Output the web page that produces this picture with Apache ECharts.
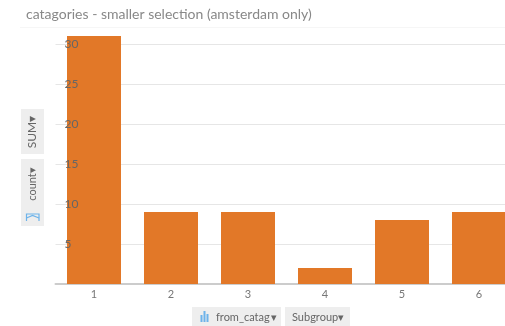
<!DOCTYPE html>
<html>
<head>
<meta charset="utf-8">
<script src="https://cdn.jsdelivr.net/npm/echarts@6/dist/echarts.min.js"></script>
<style>
  html, body { margin: 0; padding: 0; background: #fff; overflow: hidden; }
  #chart_example { width: 505px; height: 326px; }
</style>
</head>
<body>
<div id="chart_example"></div>
<script>
var categories = ['1', '2', '3', '4', '5', '6'];
var counts = [31, 9, 9, 2, 8, 9];
var titleText = 'catagories - smaller selection (amsterdam only)';

var fontName = 'Lato';
var btnColor = '#eeeeee';
var btnText = '#666666';
var iconBlue = '#6db3ea';

var myChart = echarts.init(document.getElementById('chart_example'));

// value axis settings shared by the gridline axis and the label axis
function valueAxis(extra) {
  return Object.assign({
    type: 'value',
    min: 0,
    max: 35,
    interval: 5,
    position: 'left',
    axisLine: { show: false },
    axisTick: { show: false }
  }, extra);
}

myChart.setOption({
  backgroundColor: '#fff',
  animation: false,
  title: {
    text: titleText,
    left: 21,
    top: 2,
    textStyle: { color: '#888', fontSize: 14, fontWeight: 'normal', fontFamily: fontName }
  },
  // last bar runs off the right edge in the original, so no outer bounds here
  grid: { left: 55.5, width: 462, top: 4, height: 280, outerBoundsMode: 'none' },
  xAxis: {
    type: 'category',
    data: categories,
    axisLine: { lineStyle: { color: '#cccccc', width: 2 } },
    axisTick: { alignWithLabel: true, length: 4, lineStyle: { color: '#cccccc' } },
    axisLabel: { color: '#777', fontSize: 11, fontFamily: fontName, margin: 5 }
  },
  yAxis: [
    valueAxis({
      axisLabel: { show: false },
      splitLine: { show: true, showMaxLine: false, lineStyle: { color: '#e6e6e6' } }
    }),
    // second axis only so the labels sit on top of the bars
    valueAxis({
      z: 5,
      splitLine: { show: false },
      axisLabel: {
        inside: true,
        margin: 9,
        showMinLabel: false,
        showMaxLabel: false,
        color: '#666',
        fontSize: 12,
        fontFamily: fontName
      }
    })
  ],
  series: [{
    name: 'count',
    type: 'bar',
    barWidth: 54,
    itemStyle: { color: '#e27828' },
    data: counts
  }],
  graphic: [
    { type: 'line', shape: { x1: 20, y1: 27.5, x2: 505, y2: 27.5 }, style: { stroke: '#f6f6f6', lineWidth: 1 } },

    // left hand pills
    { type: 'rect', shape: { x: 21, y: 109, width: 23, height: 45 }, style: { fill: btnColor } },
    { type: 'text', x: 32.5, y: 132, rotation: Math.PI / 2,
      style: { text: 'SUM▾', fill: btnText, fontSize: 12, fontFamily: fontName, align: 'center', verticalAlign: 'middle' } },
    { type: 'rect', shape: { x: 21, y: 159, width: 23, height: 67 }, style: { fill: btnColor } },
    { type: 'text', x: 32.5, y: 184, rotation: Math.PI / 2,
      style: { text: 'count▾', fill: btnText, fontSize: 11, fontFamily: fontName, align: 'center', verticalAlign: 'middle' } },
    { type: 'polyline', shape: { points: [[26.5, 221], [26.5, 214], [39, 214], [39, 221]] }, style: { stroke: iconBlue, fill: null, lineWidth: 1.2 } },
    { type: 'polyline', shape: { points: [[26.5, 218], [32.5, 215.5], [39, 218]] }, style: { stroke: iconBlue, fill: null, lineWidth: 1.2 } },

    // bottom pills
    { type: 'rect', shape: { x: 192, y: 307, width: 89, height: 19 }, style: { fill: btnColor } },
    { type: 'rect', shape: { x: 200.5, y: 315, width: 2, height: 7 }, style: { fill: iconBlue } },
    { type: 'rect', shape: { x: 203.5, y: 311, width: 2, height: 11 }, style: { fill: iconBlue } },
    { type: 'rect', shape: { x: 206.5, y: 314, width: 2, height: 8 }, style: { fill: iconBlue } },
    { type: 'text', x: 216, y: 317,
      style: { text: 'from_catag\u2009▾', fill: btnText, fontSize: 11, fontFamily: fontName, align: 'left', verticalAlign: 'middle' } },
    { type: 'rect', shape: { x: 285, y: 307, width: 65, height: 19 }, style: { fill: btnColor } },
    { type: 'text', x: 292, y: 317,
      style: { text: 'Subgroup▾', fill: btnText, fontSize: 11, fontFamily: fontName, align: 'left', verticalAlign: 'middle' } }
  ]
});

window.addEventListener('resize', function () { myChart.resize(); });
</script>
</body>
</html>
